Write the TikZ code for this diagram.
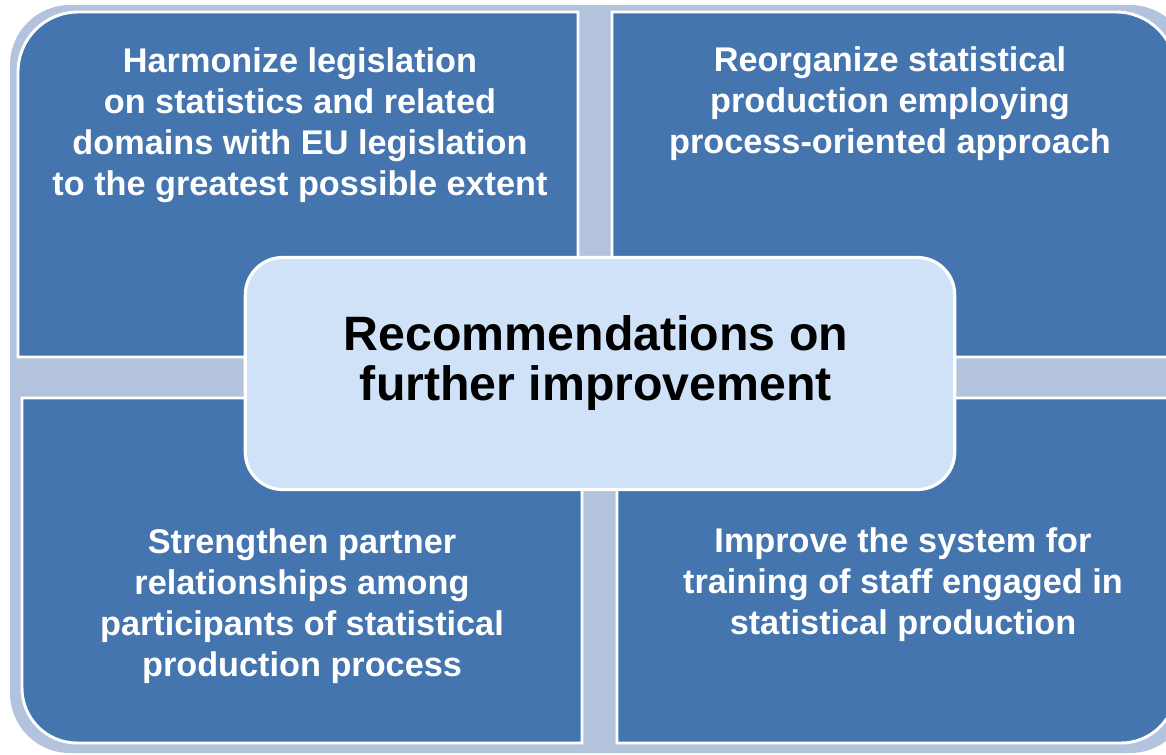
\documentclass[tikz,border=0pt]{standalone}
\usepackage{fontspec}
\setmainfont{Liberation Sans}
\definecolor{quadblue}{HTML}{4475AE}
\definecolor{frameblue}{HTML}{B3C3DD}
\definecolor{hubblue}{HTML}{CFE2F8}
\begin{document}
\begin{tikzpicture}[x=0.75pt, y=-0.75pt,
  quad/.style={fill=quadblue, draw=white, line width=2.2pt},
  quadtext/.style={text=white, align=center, font=\fontsize{25.7}{30.8}\selectfont\bfseries},
  hub/.style={rounded corners=28pt, fill=hubblue, draw=white, line width=2.4pt, minimum width=532pt, minimum height=174pt},
  hubtext/.style={text=black, align=center, font=\fontsize{36.2}{37.5}\selectfont\bfseries}]
\useasboundingbox (0,0) rectangle (1166,754);
\clip (0,0) rectangle (1166,754);

% frame behind the four parts
\fill[frameblue, rounded corners=45pt] (10,5) rectangle (1190,753);

% four parts
\draw[quad] (18,357) -- (18,72) arc[start angle=180, end angle=270, radius=60] -- (578,12) -- (578,357) -- cycle;
\draw[quad] (612,357) -- (612,12) -- (1116,12) arc[start angle=270, end angle=360, radius=60] -- (1176,357) -- cycle;
\draw[quad] (22,398) -- (582,398) -- (582,743) -- (77,743) arc[start angle=90, end angle=180, radius=55] -- cycle;
\draw[quad] (617,398) -- (1176,398) -- (1176,688) arc[start angle=0, end angle=90, radius=55] -- (617,743) -- cycle;

\node[quadtext] (harmonize) at (300,125) {Harmonize legislation\\on statistics and related\\domains with EU legislation\\to the greatest possible extent};
\node[quadtext] (reorganize) at (890,104) {Reorganize statistical\\production employing\\process-oriented approach};
\node[quadtext] (strengthen) at (302,606) {Strengthen partner\\relationships among\\participants of statistical\\production process};
\node[quadtext] (improve) at (903,585) {Improve the system for\\training of staff engaged in\\statistical production};

% centre
\node[hub] (hub) at (600,373.5) {};
\node[hubtext] (recommend) at (596,363) {Recommendations on\\further improvement};
\end{tikzpicture}
\end{document}
